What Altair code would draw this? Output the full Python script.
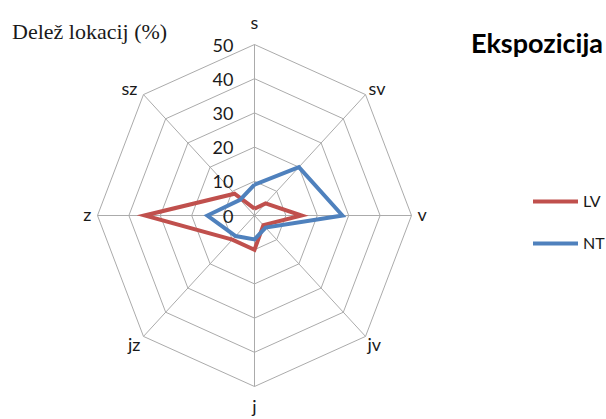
import altair as alt
import pandas as pd

# Exposure directions (clockwise from north) and share of locations (%) per series
directions = ["s", "sv", "v", "jv", "j", "jz", "z", "sz"]
lv_values = [2, 5, 15, 4, 10, 10, 35, 9]
nt_values = [9, 20, 28, 5, 7, 8.5, 15, 6.5]
series = ["LV", "NT"]
series_colors = ["#C0504D", "#4F81BD"]
ring_levels = [0, 10, 20, 30, 40, 50]
tick_labels = ["0", "10", "20", "30", "40", "50"]

# canvas and radar geometry in pixels
W, H = 606, 419
CX, CY = 254.5, 215.5
RX, RY = 157.0, 171.0
R_MAX = 50

ux = RX / R_MAX
uy = RY / R_MAX
x_dom = [-CX / ux, (W - CX) / ux]
y_dom = [-(H - CY) / uy, CY / uy]

X_SCALE = alt.Scale(domain=x_dom, nice=False, zero=False)
Y_SCALE = alt.Scale(domain=y_dom, nice=False, zero=False)

FONT = "Lato"
TEXT_COLOR = "#1a1a1a"
GRID_COLOR = "#ABABAB"


def polar(chart):
    return chart.transform_calculate(
        angle="datum.step * PI / 4",
    ).transform_calculate(
        x="datum.value * sin(datum.angle)",
        y="datum.value * cos(datum.angle)",
        x0="0",
        y0="0",
    )


def X(field="x"):
    return alt.X(f"{field}:Q", scale=X_SCALE, axis=None)


def Y(field="y"):
    return alt.Y(f"{field}:Q", scale=Y_SCALE, axis=None)


# series table: closed polygons (first direction repeated at the end)
rows = []
for name, vals in zip(series, [lv_values, nt_values]):
    for step in range(len(directions) + 1):
        i = step % len(directions)
        rows.append({"series": name, "dir": directions[i], "step": step, "value": vals[i]})
series_df = pd.DataFrame(rows)

ring_df = pd.DataFrame(
    [{"ring": r, "step": s, "value": r} for r in ring_levels[1:] for s in range(len(directions) + 1)]
)
spoke_df = pd.DataFrame(
    [{"dir": d, "step": i, "value": R_MAX} for i, d in enumerate(directions)]
)
tick_df = pd.DataFrame({"level": ring_levels, "label": tick_labels})

spokes = polar(alt.Chart(spoke_df)).mark_rule(color=GRID_COLOR, strokeWidth=1).encode(
    x=X("x0"), y=Y("y0"), x2="x:Q", y2="y:Q"
)

rings = polar(alt.Chart(ring_df)).mark_line(color=GRID_COLOR, strokeWidth=1).encode(
    x=X(), y=Y(), detail="ring:N", order="step:Q"
)

lines = polar(alt.Chart(series_df)).mark_line(
    strokeWidth=4, strokeJoin="miter", strokeMiterLimit=10
).encode(
    x=X(),
    y=Y(),
    order="step:Q",
    color=alt.Color(
        "series:N",
        scale=alt.Scale(domain=series, range=series_colors),
        legend=alt.Legend(
            title=None,
            orient="none",
            legendX=531,
            legendY=177,
            symbolType="stroke",
            symbolSize=2025,
            symbolStrokeWidth=4,
            labelFont=FONT,
            labelFontSize=16,
            labelColor=TEXT_COLOR,
            labelOffset=3,
            rowPadding=9,
        ),
    ),
)

ticks = alt.Chart(tick_df).mark_text(
    align="right", baseline="middle", dx=-21, dy=2, font=FONT, fontSize=18, color=TEXT_COLOR
).encode(
    x=alt.X("zero:Q", scale=X_SCALE, axis=None),
    y=alt.Y("level:Q", scale=Y_SCALE, axis=None),
    text="label:N",
).transform_calculate(zero="0")

# direction labels around the outer ring
label_specs = [
    (["s"], "center", 0, -21),
    (["j"], "center", 0, 21),
    (["v"], "left", 6, 0),
    (["z"], "right", -6, 0),
    (["sv"], "left", 3, -5),
    (["jv"], "left", 2, 10),
    (["sz"], "right", -6, -5),
    (["jz"], "right", -3, 10),
]
dir_layers = []
for names, align, dx, dy in label_specs:
    dir_layers.append(
        polar(alt.Chart(spoke_df))
        .transform_filter(alt.FieldOneOfPredicate(field="dir", oneOf=names))
        .mark_text(
            align=align, baseline="middle", dx=dx, dy=dy, font=FONT, fontSize=18, color=TEXT_COLOR
        )
        .encode(x=X(), y=Y(), text="dir:N")
    )

title = alt.Chart(pd.DataFrame({"t": ["Ekspozicija"]})).mark_text(
    align="right", baseline="alphabetic", font=FONT, fontSize=27, fontWeight="bold", color="#000000"
).encode(text="t:N", x=alt.value(603), y=alt.value(53))

axis_title = alt.Chart(pd.DataFrame({"t": ["Delež lokacij (%)"]})).mark_text(
    align="left", baseline="alphabetic", font="Liberation Serif", fontSize=22, color=TEXT_COLOR
).encode(text="t:N", x=alt.value(12), y=alt.value(39))

chart = alt.layer(
    spokes, rings, lines, ticks, *dir_layers, title, axis_title
).properties(
    width=W,
    height=H,
    autosize=alt.AutoSizeParams(type="none"),
    padding=0,
    background="white",
).configure_view(stroke=None)

chart.save("out.html", embed_options={"renderer": "svg", "actions": False})
